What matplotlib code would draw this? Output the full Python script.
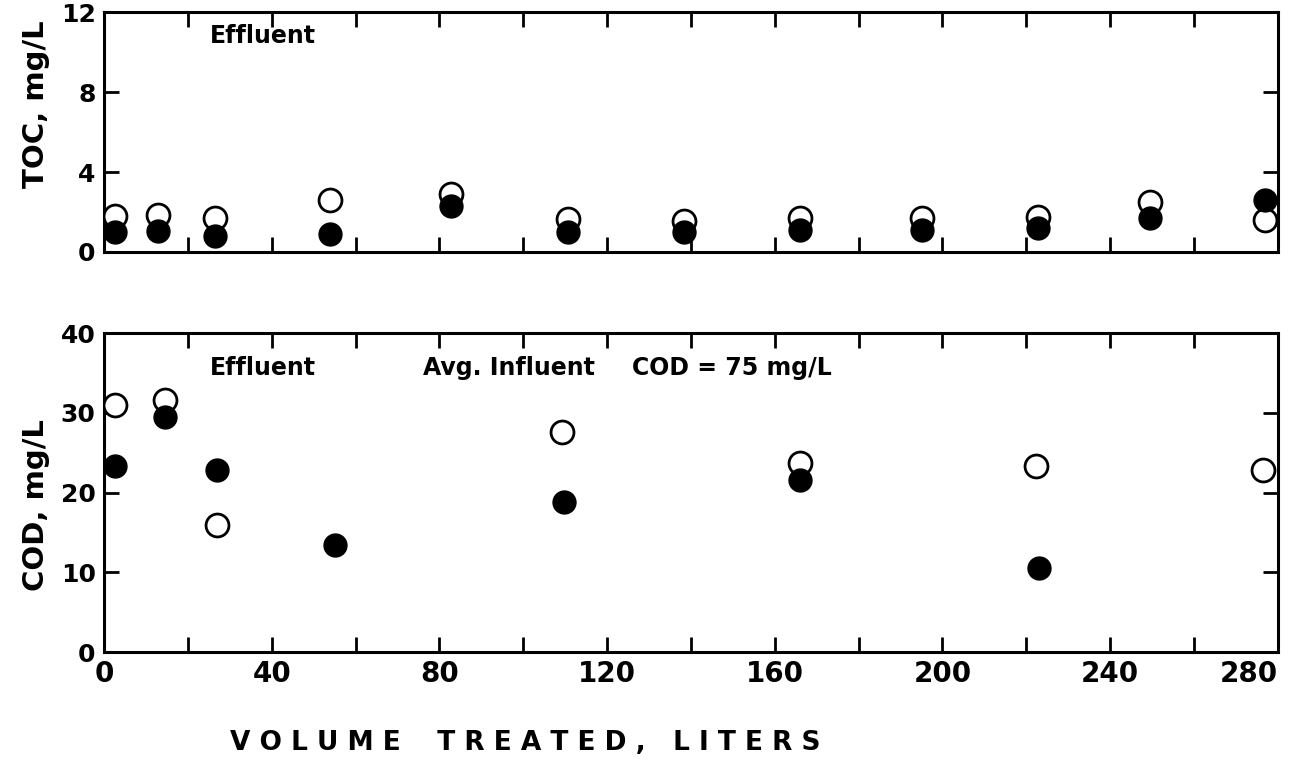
import matplotlib
matplotlib.use("Agg")
import matplotlib.pyplot as plt
import numpy as np

# TOC panel data
toc_x = [2.6, 12.9, 26.5, 54, 82.8, 110.7, 138.4, 166, 195.2, 222.7, 249.6, 277]
toc_open = [1.8, 1.85, 1.7, 2.6, 2.9, 1.65, 1.55, 1.7, 1.7, 1.75, 2.5, 1.6]
toc_filled = [1.0, 1.05, 0.8, 0.9, 2.3, 1.0, 1.0, 1.1, 1.1, 1.2, 1.7, 2.6]

# COD panel data
cod_open_x = [2.6, 14.6, 27, 109.3, 166, 222.4, 276.4]
cod_open = [31.0, 31.6, 15.9, 27.6, 23.7, 23.4, 22.9]
cod_filled_x = [2.6, 14.6, 27, 55, 109.8, 166, 223]
cod_filled = [23.4, 29.5, 22.8, 13.4, 18.8, 21.6, 10.5]

x_ticks = list(range(0, 281, 20))
x_labels = ["0", "", "40", "", "80", "", "120", "", "160", "", "200", "", "240", "", "280"]
toc_ticks = [0, 4, 8, 12]
cod_ticks = [0, 10, 20, 30, 40]

plt.rcParams['font.family'] = ['DejaVu Sans']
fig = plt.figure(figsize=(12.9, 7.68), dpi=100)
ax1 = fig.add_axes([0.0806, 0.672, 0.910, 0.312])
ax2 = fig.add_axes([0.0806, 0.151, 0.910, 0.415])

ms = 16.5
for ax in (ax1, ax2):
    for s in ax.spines.values():
        s.set_linewidth(2.2)
    ax.set_xlim(0, 280)
    ax.set_xticks(x_ticks)
    ax.tick_params(direction='in', length=11, width=2.0, top=True, right=True,
                   labelsize=18, pad=6)

ax1.plot(toc_x, toc_open, 'o', ms=ms, mfc='white', mec='black', mew=2.0, zorder=3)
ax1.plot(toc_x, toc_filled, 'o', ms=ms, mfc='black', mec='black', zorder=4)
ax1.set_ylim(0, 12)
ax1.set_yticks(toc_ticks)
ax1.set_yticklabels([str(t) for t in toc_ticks], fontweight='bold')
ax1.set_xticklabels([])
ax1.set_ylabel("TOC, mg/L", fontsize=21, fontweight='bold')
ax1.yaxis.set_label_coords(-0.046, 0.617)
ax1.text(0.09, 0.95, "Effluent", transform=ax1.transAxes, fontsize=17,
         fontweight='bold', va='top', ha='left')

ax2.plot(cod_open_x, cod_open, 'o', ms=ms, mfc='white', mec='black', mew=2.0, zorder=3)
ax2.plot(cod_filled_x, cod_filled, 'o', ms=ms, mfc='black', mec='black', zorder=4)
ax2.set_ylim(0, 40)
ax2.set_yticks(cod_ticks)
ax2.set_yticklabels([str(t) for t in cod_ticks], fontweight='bold')
ax2.set_xticklabels(x_labels, fontweight='bold', fontsize=20)
labs = ax2.get_xticklabels()
labs[-1].set_horizontalalignment('right')
ax2.set_ylabel("COD, mg/L", fontsize=21, fontweight='bold')
ax2.yaxis.set_label_coords(-0.046, 0.46)
ax2.text(0.09, 0.93, "Effluent", transform=ax2.transAxes, fontsize=17,
         fontweight='bold', va='top', ha='left')
ax2.text(0.272, 0.93, "Avg. Influent", transform=ax2.transAxes,
         fontsize=17, fontweight='bold', va='top', ha='left')
ax2.text(0.450, 0.93, "COD = 75 mg/L", transform=ax2.transAxes,
         fontsize=17, fontweight='bold', va='top', ha='left')

fig.text(525 / 1290, 1 - 743 / 768, "V O L U M E    T R E A T E D ,   L I T E R S",
         fontsize=19, fontweight='bold', ha='center', va='center')

fig.savefig("out.png", dpi=100, facecolor='white')
